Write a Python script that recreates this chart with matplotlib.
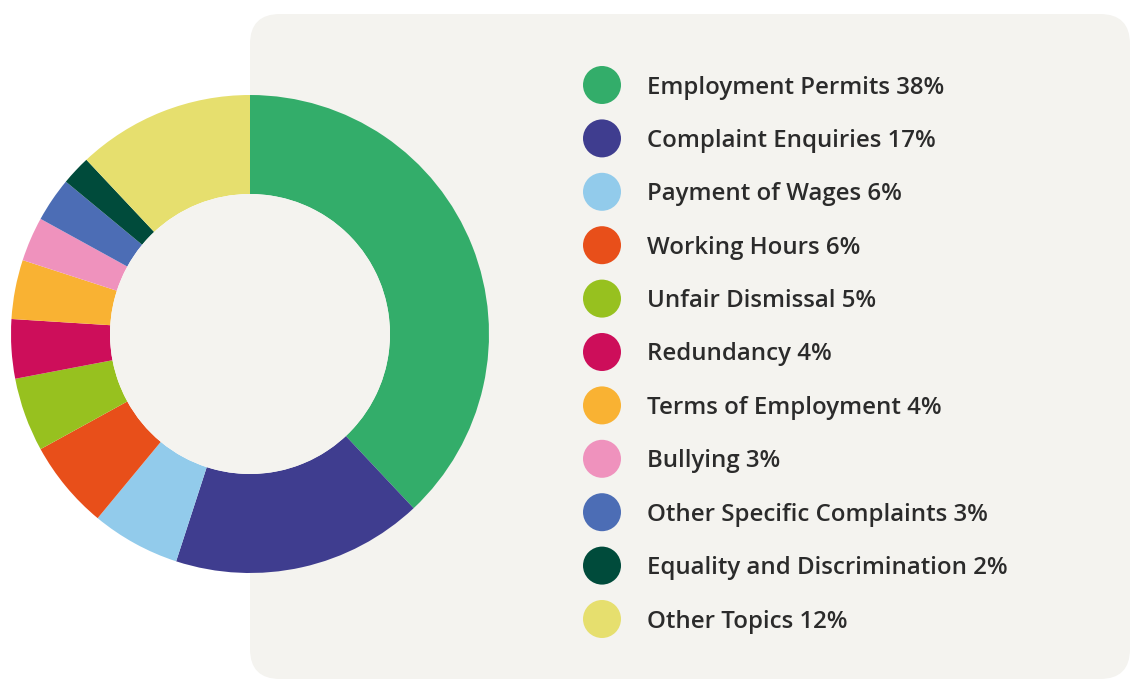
import matplotlib.pyplot as plt
from matplotlib.patches import FancyBboxPatch, Circle

# enquiry topics, share in percent (clockwise from 12 o'clock)
topics = ['Employment Permits', 'Complaint Enquiries', 'Payment of Wages',
          'Working Hours', 'Unfair Dismissal', 'Redundancy',
          'Terms of Employment', 'Bullying', 'Other Specific Complaints',
          'Equality and Discrimination', 'Other Topics']
shares = [38, 17, 6, 6, 5, 4, 4, 3, 3, 2, 12]
colors = ['#33ad6a', '#3f3d8f', '#92cbeb', '#e84f1a', '#97c11f', '#cd0e5a',
          '#f9b233', '#ef92bd', '#4c6db5', '#004b3b', '#e6df6e']

W, H = 1130, 679
panel_color = '#f4f3ef'

fig = plt.figure(figsize=(W / 100, H / 100), dpi=100)
ax = fig.add_axes([0, 0, 1, 1])

# background panel with rounded corners
panel = FancyBboxPatch((280, 30), 820, 605,
                       boxstyle='round,pad=30',
                       facecolor=panel_color, edgecolor='none', zorder=0)
ax.add_patch(panel)

# donut
cx, cy = 250, H - 334
r_out, r_in = 239, 140
ax.pie(shares, colors=colors, startangle=90, counterclock=False,
       center=(cx, cy), radius=r_out,
       wedgeprops=dict(width=r_out - r_in, edgecolor='none', linewidth=0))
ax.add_patch(Circle((cx, cy), r_in, facecolor=panel_color,
                    edgecolor='none', zorder=5))

# legend
y0, step = H - 85, 53.4
for i, (name, val, col) in enumerate(zip(topics, shares, colors)):
    y = y0 - i * step
    ax.add_patch(Circle((602, y), 19, facecolor=col, edgecolor='none', zorder=3))
    ax.text(647, y - 2.5, f'{name} {val}%', fontsize=17.3, fontfamily='Open Sans',
            fontweight='semibold', color='#2b2b2b', va='center', ha='left')

ax.set_xlim(0, W)
ax.set_ylim(0, H)
ax.set_aspect('equal')
ax.axis('off')

fig.savefig('out.png', dpi=100, facecolor='white')
